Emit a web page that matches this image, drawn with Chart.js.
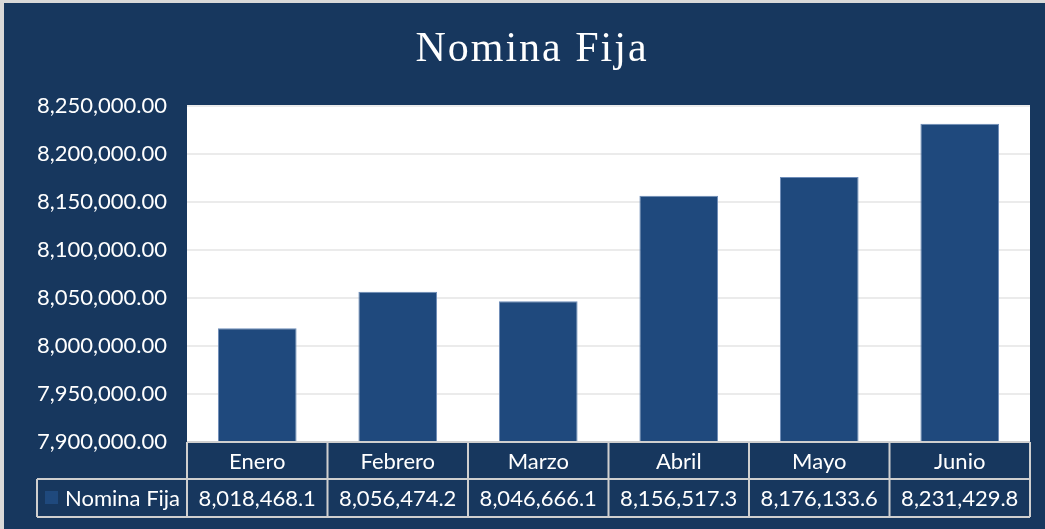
<!DOCTYPE html>
<html>
<head>
<meta charset="utf-8">
<script src="https://cdn.jsdelivr.net/npm/chart.js@4"></script>
<style>
  html, body { margin: 0; padding: 0; background: #d9d9d9; }
  #wrap { position: absolute; left: 4px; top: 3px; width: 1041px; height: 526px; }
</style>
</head>
<body>
<div id="wrap"><canvas id="chart" width="1041" height="526"></canvas></div>
<script>
// Chart data
const chartTitle = 'Nomina Fija';
const seriesName = 'Nomina Fija';
const months = ['Enero', 'Febrero', 'Marzo', 'Abril', 'Mayo', 'Junio'];
const nominaValues = [8018468.1, 8056474.2, 8046666.1, 8156517.3, 8176133.6, 8231429.8];
const yMin = 7900000;
const yMax = 8250000;
const yStep = 50000;

const navy = '#17375e';
const barColor = '#1f497d';
const lineColor = '#cfcfcf';
const labelFont = '"Lato", "Open Sans", sans-serif';

function fmt(v, digits) {
    return v.toLocaleString('en-US', { minimumFractionDigits: digits, maximumFractionDigits: digits });
}

// background, white plot area and title
const backgroundPlugin = {
    id: 'background',
    beforeDraw(chart) {
        const { ctx, chartArea } = chart;
        ctx.save();
        ctx.fillStyle = navy;
        ctx.fillRect(0, 0, chart.width, chart.height);
        ctx.fillStyle = '#ffffff';
        ctx.fillRect(chartArea.left, chartArea.top, chartArea.right - chartArea.left, chartArea.bottom - chartArea.top);
        ctx.fillStyle = '#ffffff';
        ctx.font = '42px "Liberation Serif", serif';
        ctx.letterSpacing = '2px';
        ctx.textAlign = 'center';
        ctx.textBaseline = 'middle';
        ctx.fillText(chartTitle, 528, 47);
        ctx.restore();
    }
};

// data table under the plot
const dataTablePlugin = {
    id: 'dataTable',
    afterDraw(chart) {
        const { ctx, chartArea } = chart;
        const x = chart.scales.x;
        const left = chartArea.left;
        const right = chartArea.right;
        const colW = (right - left) / months.length;
        const row1Top = chartArea.bottom;
        const row1Bottom = row1Top + 37;
        const row2Bottom = row1Bottom + 38;
        const tableLeft = 33;

        ctx.save();
        ctx.strokeStyle = lineColor;
        ctx.lineWidth = 2;
        ctx.beginPath();
        // horizontal lines
        ctx.moveTo(left, row1Top); ctx.lineTo(right, row1Top);
        ctx.moveTo(tableLeft, row1Bottom); ctx.lineTo(right, row1Bottom);
        ctx.moveTo(tableLeft, row2Bottom); ctx.lineTo(right, row2Bottom);
        // vertical lines
        ctx.moveTo(tableLeft, row1Bottom); ctx.lineTo(tableLeft, row2Bottom);
        for (let i = 0; i <= months.length; i++) {
            const cx = left + i * colW;
            ctx.moveTo(cx, row1Top); ctx.lineTo(cx, row2Bottom);
        }
        ctx.stroke();

        ctx.fillStyle = '#ffffff';
        ctx.font = '22px ' + labelFont;
        ctx.textAlign = 'center';
        ctx.textBaseline = 'middle';
        months.forEach((m, i) => {
            const cx = x.getPixelForValue(i);
            ctx.fillText(m, cx, (row1Top + row1Bottom) / 2 + 1);
            ctx.fillText(fmt(nominaValues[i], 1), cx, (row1Bottom + row2Bottom) / 2 + 1);
        });

        // legend key
        ctx.fillStyle = barColor;
        ctx.fillRect(41, 488, 13, 13);
        ctx.fillStyle = '#ffffff';
        ctx.textAlign = 'left';
        ctx.fillText(seriesName, 61, (row1Bottom + row2Bottom) / 2 + 1);
        ctx.restore();
    }
};

new Chart(document.getElementById('chart').getContext('2d'), {
    type: 'bar',
    data: {
        labels: months,
        datasets: [{
            label: seriesName,
            data: nominaValues,
            backgroundColor: barColor,
            borderColor: '#6d8cb8',
            borderWidth: 1,
            barPercentage: 0.56,
            categoryPercentage: 1
        }]
    },
    options: {
        responsive: false,
        animation: false,
        layout: {
            padding: { top: 103, right: 15, bottom: 87, left: 0 }
        },
        scales: {
            x: {
                display: false
            },
            y: {
                min: yMin,
                max: yMax,
                afterFit: function(scale) {
                    scale.width = 183;
                },
                border: { display: false },
                grid: {
                    color: '#ebebeb',
                    lineWidth: 2,
                    drawTicks: false
                },
                ticks: {
                    stepSize: yStep,
                    padding: 20,
                    color: '#ffffff',
                    font: { family: labelFont, size: 22 },
                    callback: function(value) {
                        return fmt(value, 2);
                    }
                }
            }
        },
        plugins: {
            legend: { display: false },
            tooltip: { enabled: false }
        }
    },
    plugins: [backgroundPlugin, dataTablePlugin]
});
</script>
</body>
</html>
